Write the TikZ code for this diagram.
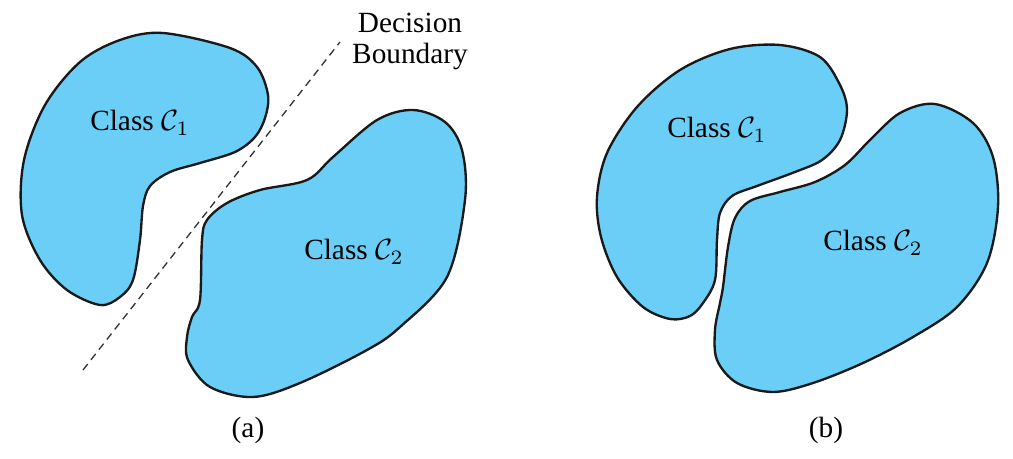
\documentclass[tikz,border=0pt]{standalone}
\usepackage{fontspec}
\setmainfont{Liberation Serif}
\definecolor{blobblue}{RGB}{107,206,246}
\tikzset{blob/.style={draw=black!90,fill=blobblue,line width=0.8pt},
  boundary/.style={dash pattern=on 2.6pt off 1.8pt,line width=0.45pt,black!80}}
\begin{document}
\begin{tikzpicture}[x=0.012cm,y=-0.012cm]
	\useasboundingbox (0,0) rectangle (1013,459);
	% (a)
	\draw[blob] plot[smooth cycle,tension=0.55] coordinates {
		(163,33) (230,48) (257,67) (268,95) (265,118) (255,137) (235,152) (200,163) (170,172) (150,186) (143,206)
		(140,240) (133,280) (120,297) (100,305) (67,290) (40,260) (22,215) (24,160)
		(45,105) (80,62) (120,40)};
	\draw[blob] plot[smooth cycle,tension=0.55] coordinates {
		(413,110) (445,122) (462,150) (465,200) (447,277) (400,327) (367,350) (300,383)
		(253,397) (210,387) (188,360) (187,337) (192,317) (200,300) (202,240)
		(207,220) (227,203) (260,190) (307,180) (333,157) (377,120)};
	\coordinate (b1) at (83,370);
	\coordinate (b2) at (340,42);
	\draw[boundary] (b1) -- (b2);
	\node (dec) at (410,23) {Decision};
	\node (bnd) at (410,56) {Boundary};
	\node (c1a) at (140,123) {Class $\mathcal{C}_1$};
	\node (c2a) at (354,252) {Class $\mathcal{C}_2$};
	\node (la) at (248,430) {(a)};
	% (b)
	\draw[blob] plot[smooth cycle,tension=0.55] coordinates {
		(780,45) (820,57) (840,85) (847,110) (840,140) (822,160) (795,172) (757,186) (732,196)
		(720,213) (717,240) (715,280) (703,303) (690,316) (670,319) (643,307) (617,277)
		(601,237) (597,197) (607,153) (637,107) (680,70) (730,49)};
	\draw[blob] plot[smooth cycle,tension=0.55] coordinates {
		(935,104) (973,123) (993,157) (998,207) (987,263) (957,307) (913,337) (863,363)
		(813,383) (773,392) (737,383) (717,360) (715,330) (720,303) (723,287) (728,247)
		(735,218) (750,201) (780,192) (815,182) (845,165) (870,140) (900,113)};
	\node (c1b) at (717,130) {Class $\mathcal{C}_1$};
	\node (c2b) at (873,243) {Class $\mathcal{C}_2$};
	\node (lb) at (826,430) {(b)};
\end{tikzpicture}
\end{document}
